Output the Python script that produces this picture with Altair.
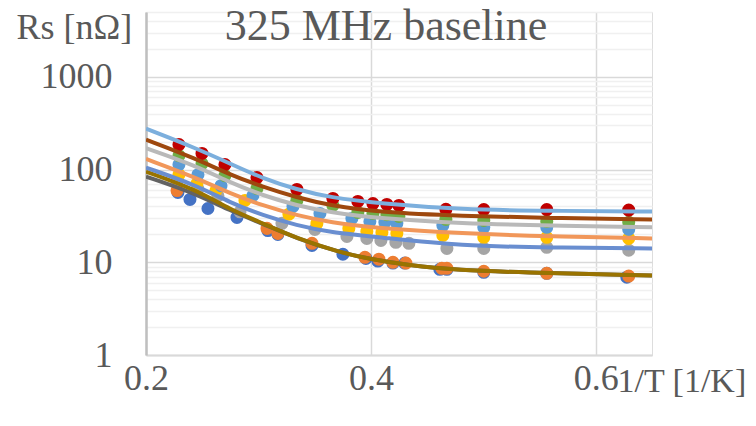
import altair as alt
import pandas as pd

FONT = "Liberation Serif"
TXT = "#595959"

# ---- measured points: x = 1/T [1/K], y = Rs [nOhm] ----
blue_x = [0.2284, 0.2391, 0.2551, 0.2809, 0.3084, 0.3173, 0.3476, 0.3751, 0.3956, 0.4062, 0.4196, 0.4302, 0.4613, 0.4676, 0.5004, 0.5564, 0.6276]
blue_y = [56.6, 47.6, 38, 30.5, 22, 20, 15.2, 12.2, 11, 10.3, 9.8, 9.8, 8.4, 8.4, 7.8, 7.6, 6.9]

orange_x = [0.2276, 0.3076, 0.3173, 0.3476, 0.3947, 0.4071, 0.4196, 0.4311, 0.4631, 0.4676, 0.5004, 0.5564, 0.6293]
orange_y = [59.4, 23.2, 20.5, 16, 11.3, 10.8, 10, 9.8, 8.6, 8.6, 8, 7.6, 7.1]

gray_x = [0.2276, 0.2462, 0.2640, 0.2836, 0.3209, 0.3502, 0.3787, 0.3964, 0.4089, 0.4222, 0.4338, 0.4676, 0.5004, 0.5564, 0.6293]
gray_y = [76, 62, 52, 35, 26.3, 22.6, 19, 18.1, 17.2, 16.4, 16, 14.1, 14.1, 14.5, 13.5]

gold_x = [0.2293, 0.2453, 0.2622, 0.2880, 0.3271, 0.3520, 0.3804, 0.3964, 0.4098, 0.4231, 0.4640, 0.5004, 0.5564, 0.6293]
gold_y = [88, 70.7, 59.4, 46.4, 33, 26.3, 23.2, 21.5, 21, 20.5, 19.5, 18.6, 18.6, 18.1]

ltblue_x = [0.2293, 0.2462, 0.2667, 0.2951, 0.3307, 0.3547, 0.3831, 0.3991, 0.4124, 0.4231, 0.4640, 0.5004, 0.5564, 0.6293]
ltblue_y = [113, 88, 67, 52.5, 40, 33.6, 29.7, 27.5, 27, 26.3, 25, 23.8, 23.8, 22.6]

green_x = [0.2293, 0.2498, 0.2702, 0.2987, 0.3342, 0.3662, 0.3884, 0.4018, 0.4142, 0.4249, 0.4667, 0.5004, 0.5564, 0.6293]
green_y = [141, 116, 86, 62.5, 46.4, 41, 34.5, 33.6, 32.6, 31.2, 29, 28.3, 27.6, 27]

red_x = [0.2293, 0.2498, 0.2702, 0.2987, 0.3342, 0.3662, 0.3884, 0.4018, 0.4142, 0.4249, 0.4667, 0.5004, 0.5564, 0.6293]
red_y = [186, 149, 113, 82, 61, 48.8, 45.3, 43, 42, 41, 37.2, 37, 37, 36.5]

# ---- fitted curves ----
fit_top_x = [0.2, 0.2444, 0.2747, 0.304, 0.334, 0.3636, 0.408, 0.48, 0.56, 0.65]
fit_top_y = [276, 170, 116, 80, 61, 50, 43, 37, 35.8, 35.3]

fit_brown_x = [0.2, 0.2444, 0.2747, 0.304, 0.334, 0.3636, 0.408, 0.48, 0.56, 0.65]
fit_brown_y = [210, 131, 88, 65, 50, 41, 34.5, 31.5, 30, 29]

fit_lgray_x = [0.2, 0.2444, 0.2747, 0.304, 0.334, 0.3636, 0.408, 0.48, 0.56, 0.65]
fit_lgray_y = [170, 110, 72.5, 52.5, 41, 34.5, 29.7, 26.3, 24.8, 23.8]

fit_lorange_x = [0.2, 0.2444, 0.2747, 0.304, 0.334, 0.3636, 0.408, 0.48, 0.56, 0.65]
fit_lorange_y = [130, 82, 55, 41, 32, 27, 23.2, 20.5, 19, 18.1]

fit_steel_x = [0.2, 0.2444, 0.2747, 0.304, 0.334, 0.3636, 0.408, 0.48, 0.56, 0.65]
fit_steel_y = [105, 68, 44, 32, 25, 21, 18.6, 15, 14.4, 14.1]

fit_dgray_x = [0.2, 0.2444, 0.2747, 0.304, 0.334, 0.372, 0.4, 0.432, 0.48, 0.53, 0.65]
fit_dgray_y = [84, 55, 36, 26, 18.1, 12.8, 10.8, 9.3, 8.2, 7.8, 7.2]

fit_olive_x = [0.2, 0.2444, 0.2747, 0.304, 0.334, 0.372, 0.4, 0.432, 0.48, 0.53, 0.65]
fit_olive_y = [95, 61, 37, 26.3, 18.1, 12.8, 10.8, 9.3, 8.2, 7.8, 7.2]

x_ticks = [0.2, 0.4, 0.6]
y_ticks = [1, 10, 100, 1000]
y_minor = [2, 3, 4, 5, 6, 7, 8, 9, 20, 30, 40, 50, 60, 70, 80, 90,
           200, 300, 400, 500, 600, 700, 800, 900, 2000, 3000, 4000, 5000]

point_series = [
    ("s1", blue_x, blue_y, "#4472C4"),
    ("s2", orange_x, orange_y, "#ED7D31"),
    ("s3", gray_x, gray_y, "#A5A5A5"),
    ("s4", gold_x, gold_y, "#FFC000"),
    ("s5", ltblue_x, ltblue_y, "#5B9BD5"),
    ("s6", green_x, green_y, "#70AD47"),
    ("s7", red_x, red_y, "#C00000"),
]
fit_series = [
    ("f1", fit_dgray_x, fit_dgray_y, "#636363"),
    ("f2", fit_olive_x, fit_olive_y, "#997300"),
    ("f3", fit_steel_x, fit_steel_y, "#698ED0"),
    ("f4", fit_lorange_x, fit_lorange_y, "#F1975A"),
    ("f5", fit_lgray_x, fit_lgray_y, "#B9B9B9"),
    ("f6", fit_brown_x, fit_brown_y, "#9E480E"),
    ("f7", fit_top_x, fit_top_y, "#7CAFDD"),
]

rows = []
for name, xs, ys, _ in point_series:
    for a, b in zip(xs, ys):
        rows.append({"series": name, "x": a, "y": b})
pts_df = pd.DataFrame(rows)

xscale = alt.Scale(domain=[0.2, 0.65], nice=False, zero=False)
yscale = alt.Scale(type="log", domain=[1, 5000], nice=False)

x_axis = alt.Axis(values=x_ticks, format=".1f", title="1/T [1/K]",
                  labelFont=FONT, labelFontSize=36, labelColor=TXT, labelPadding=6,
                  ticks=False, grid=True, gridColor="#D9D9D9", gridWidth=1.5,
                  domainColor="#D9D9D9", domainWidth=2,
                  titleFont=FONT, titleFontSize=34, titleColor=TXT, titleFontWeight="normal",
                  titleX=471, titleY=26, titleAlign="left", titleBaseline="middle",
                  labelFlush=False, labelOverlap=False)

minor_axis = alt.Axis(values=y_minor, labels=False, ticks=False, domain=False,
                      grid=True, gridColor="#F0F0F0", gridWidth=1.5, title=None, orient="left")

main_y_axis = alt.Axis(values=y_ticks, format="d", title="Rs [nΩ]", orient="left",
                       labelFont=FONT, labelFontSize=36, labelColor=TXT, labelPadding=34,
                       ticks=False, grid=True, gridColor="#D9D9D9", gridWidth=1.5,
                       domainColor="#BFBFBF", domainWidth=2.5,
                       titleFont=FONT, titleFontSize=36, titleColor=TXT, titleFontWeight="normal",
                       titleAngle=0, titleX=-130, titleY=15, titleAlign="left",
                       titleBaseline="middle", labelOverlap=False)

points = alt.Chart(pts_df).mark_circle(size=170, opacity=1).encode(
    x=alt.X("x:Q", scale=xscale, axis=x_axis),
    y=alt.Y("y:Q", scale=yscale, axis=minor_axis),
    color=alt.Color("series:N",
                    scale=alt.Scale(domain=[s[0] for s in point_series],
                                    range=[s[3] for s in point_series]),
                    legend=None),
)

layers = [points]
for i, (name, xs, ys, col) in enumerate(fit_series):
    df = pd.DataFrame({"x": xs, "y": ys})
    yax = main_y_axis if i == 0 else None
    layers.append(
        alt.Chart(df).mark_line(color=col, strokeWidth=4, interpolate="basis", clip=True).encode(
            x=alt.X("x:Q", scale=xscale, axis=x_axis),
            y=alt.Y("y:Q", scale=yscale, axis=yax),
        )
    )

chart = alt.layer(*layers).resolve_axis(y="independent").properties(
    width=506, height=343,
    autosize=alt.AutoSizeParams(type="none"),
    padding={"left": 138, "top": 4, "right": 96, "bottom": 63},
    title=alt.TitleParams(text="325 MHz baseline", font=FONT, fontSize=44, color=TXT,
                          fontWeight="normal", anchor="middle", frame="group",
                          offset=-40, dx=-13),
).configure_view(stroke=None).configure(background="white")

chart.save("out.html", embed_options={"renderer": "svg", "actions": False})
